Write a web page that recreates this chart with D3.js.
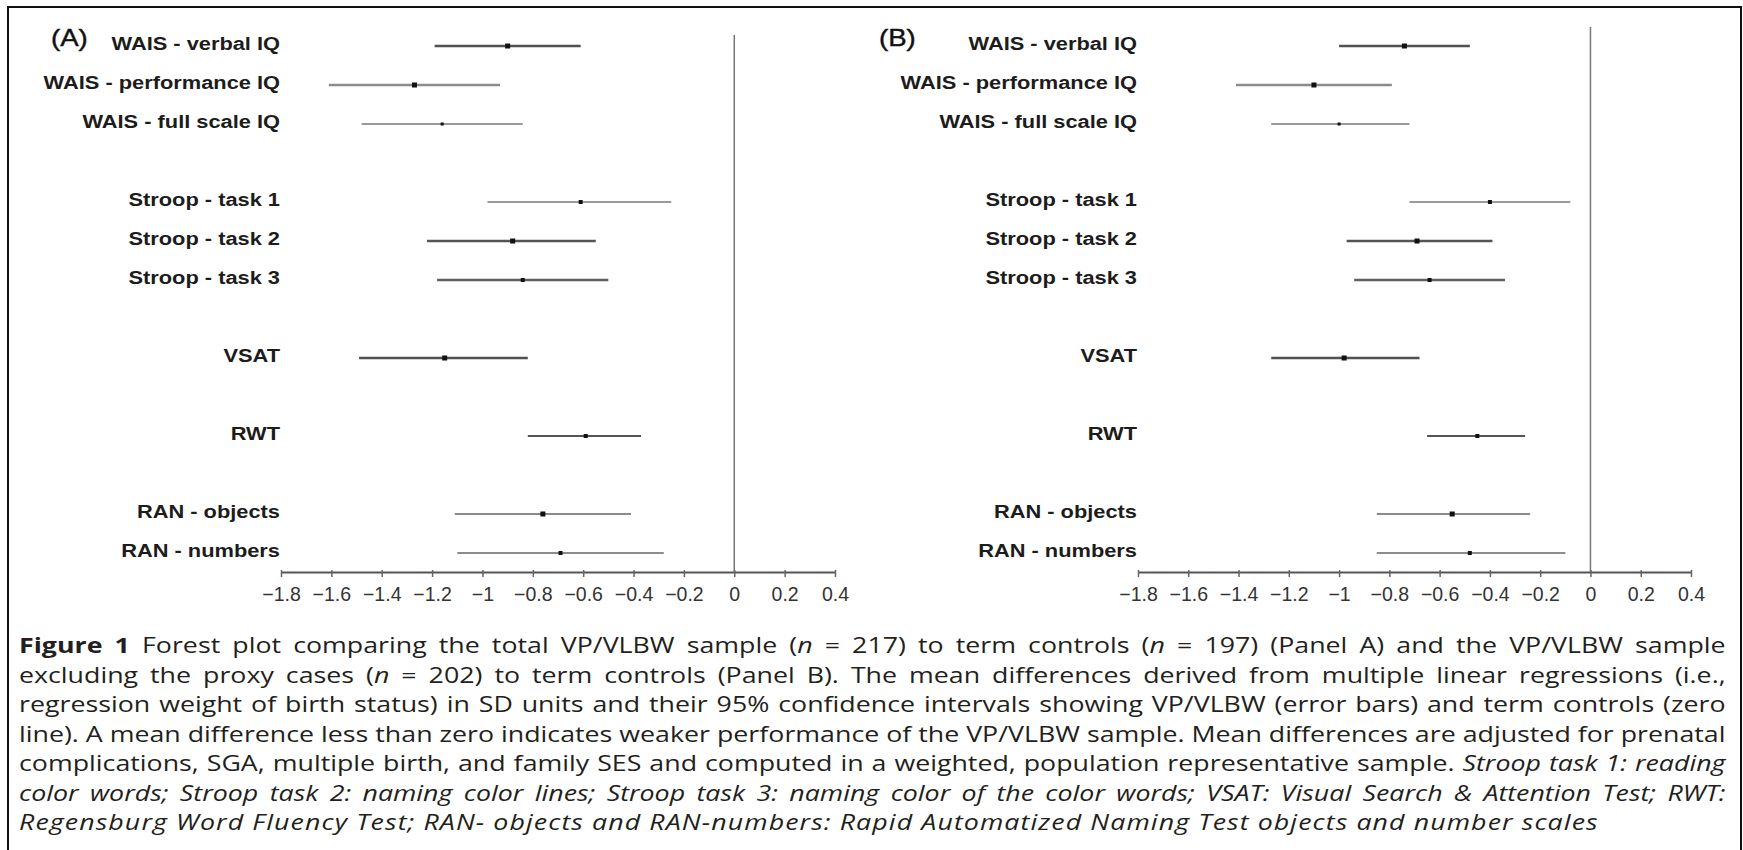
<!DOCTYPE html>
<html>
<head>
<meta charset="utf-8">
<script src="https://cdn.jsdelivr.net/npm/d3@7"></script>
<style>
  body { margin: 0; background: #fff; }
  svg { display: block; }
</style>
</head>
<body>
<script>
//****************************
//data
const measures = ["WAIS - verbal IQ", "WAIS - performance IQ", "WAIS - full scale IQ",
  "Stroop - task 1", "Stroop - task 2", "Stroop - task 3",
  "VSAT", "RWT", "RAN - objects", "RAN - numbers"];
const groups = ["WAIS", "WAIS", "WAIS", "Stroop", "Stroop", "Stroop", "VSAT", "RWT", "RAN", "RAN"];

// panel A: total VP/VLBW sample
const meanA = [-0.90, -1.27, -1.16, -0.61, -0.88, -0.84, -1.15, -0.59, -0.76, -0.69];
const lowA  = [-1.19, -1.61, -1.48, -0.98, -1.22, -1.18, -1.49, -0.82, -1.11, -1.10];
const highA = [-0.61, -0.93, -0.84, -0.25, -0.55, -0.50, -0.82, -0.37, -0.41, -0.28];

// panel B: without proxy cases
const meanB = [-0.74, -1.10, -1.00, -0.40, -0.69, -0.64, -0.98, -0.45, -0.55, -0.48];
const lowB  = [-1.00, -1.41, -1.27, -0.72, -0.97, -0.94, -1.27, -0.65, -0.85, -0.85];
const highB = [-0.48, -0.79, -0.72, -0.08, -0.39, -0.34, -0.68, -0.26, -0.24, -0.10];

const xTicks = [-1.8, -1.6, -1.4, -1.2, -1, -0.8, -0.6, -0.4, -0.2, 0, 0.2, 0.4];

const captionLines = [
  [["Figure 1", "b"], [" Forest plot comparing the total VP/VLBW sample ("], ["n", "i"], [" = 217) to term controls ("], ["n", "i"], [" = 197) (Panel A) and the VP/VLBW sample"]],
  [["excluding the proxy cases ("], ["n", "i"], [" = 202) to term controls (Panel B). The mean differences derived from multiple linear regressions (i.e.,"]],
  [["regression weight of birth status) in SD units and their 95% confidence intervals showing VP/VLBW (error bars) and term controls (zero"]],
  [["line). A mean difference less than zero indicates weaker performance of the VP/VLBW sample. Mean differences are adjusted for prenatal"]],
  [["complications, SGA, multiple birth, and family SES and computed in a weighted, population representative sample. "], ["Stroop task 1: reading", "i"]],
  [["color words; Stroop task 2: naming color lines; Stroop task 3: naming color of the color words; VSAT: Visual Search & Attention Test; RWT:", "i"]],
  [["Regensburg Word Fluency Test; RAN- objects and RAN-numbers: Rapid Automatized Naming Test objects and number scales", "i"]]
];

//****************************
//svg
const canvWidth = 1743;
const canvHeight = 850;

const svg = d3.select("body").append("svg")
  .attr("width", canvWidth)
  .attr("height", canvHeight);

svg.append("rect")
  .attr("x", 8).attr("y", 7)
  .attr("width", 1733).attr("height", 870)
  .attr("fill", "none")
  .attr("stroke", "#111")
  .attr("stroke-width", 2);

// slot of each row, one empty slot between groups
const groupOrder = [...new Set(groups)];
const slots = measures.map((m, i) => i + groupOrder.indexOf(groups[i]));

const yScale = d3.scaleLinear().domain([0, 13]).range([46, 553]);
const axisY = 572;

// line weight by measure
const barStyle = {
  "WAIS - verbal IQ":      {c: "#505050", w: 2.6, p: 5},
  "WAIS - performance IQ": {c: "#8c8c8c", w: 2.6, p: 5},
  "WAIS - full scale IQ":  {c: "#777",    w: 1.3, p: 3},
  "Stroop - task 1":       {c: "#9a9a9a", w: 2.2, p: 4},
  "Stroop - task 2":       {c: "#555",    w: 2.6, p: 5},
  "Stroop - task 3":       {c: "#606060", w: 2.6, p: 4},
  "VSAT":                  {c: "#505050", w: 2.6, p: 5},
  "RWT":                   {c: "#555",    w: 2.2, p: 4},
  "RAN - objects":         {c: "#8a8a8a", w: 2.2, p: 5},
  "RAN - numbers":         {c: "#666",    w: 1.3, p: 4}
};

const fmt = d => d === 0 ? "0" : String(d).replace("-", "\u2212");

function drawPanel(letter, letterX, range, zeroTop, mean, low, high) {
  const xScale = d3.scaleLinear().domain([-1.8, 0.4]).range(range);
  const g = svg.append("g").attr("class", "panel");

  // zero line
  g.append("line")
    .attr("x1", xScale(0)).attr("x2", xScale(0))
    .attr("y1", zeroTop).attr("y2", axisY)
    .attr("stroke", "#777")
    .attr("stroke-width", 1.5);

  // x axis
  const xAxis = d3.axisBottom(xScale)
    .tickValues(xTicks)
    .tickFormat(fmt)
    .tickSizeInner(5)
    .tickSizeOuter(0)
    .tickPadding(10);
  const ax = g.append("g")
    .attr("transform", `translate(0,${axisY})`)
    .call(xAxis);
  ax.select(".domain").attr("stroke", "#555").attr("stroke-width", 2);
  ax.selectAll(".tick line").attr("stroke", "#666").attr("stroke-width", 1.5).attr("y1", -2);
  ax.selectAll(".tick text")
    .attr("fill", "#333")
    .attr("font-family", "Liberation Sans, Arial, sans-serif")
    .attr("font-size", "19.5px");

  // row labels
  g.selectAll("text.row-label")
    .data(measures)
    .enter().append("text")
    .attr("class", "row-label")
    .attr("transform", (d, i) => `translate(${xScale(-1.8) - 1},${yScale(slots[i]) + 4}) scale(1.18,1)`)
    .attr("text-anchor", "end")
    .attr("font-family", "Liberation Sans, Arial, sans-serif")
    .attr("font-weight", "bold")
    .attr("font-size", "18.5px")
    .attr("fill", "#1c1c1c")
    .text(d => d);

  // panel letter
  g.append("text")
    .attr("transform", `translate(${letterX},46) scale(1.2,1)`)
    .attr("font-family", "Liberation Sans, Arial, sans-serif")
    .attr("font-size", "23px")
    .attr("stroke", "#111")
    .attr("stroke-width", 0.4)
    .attr("fill", "#111")
    .text(letter);

  // error bars
  g.selectAll("line.ci")
    .data(measures)
    .enter().append("line")
    .attr("class", "ci")
    .attr("x1", (d, i) => xScale(low[i]))
    .attr("x2", (d, i) => xScale(high[i]))
    .attr("y1", (d, i) => yScale(slots[i]))
    .attr("y2", (d, i) => yScale(slots[i]))
    .attr("stroke", d => barStyle[d].c)
    .attr("stroke-width", d => barStyle[d].w);

  // mean points
  g.selectAll("rect.mean")
    .data(measures)
    .enter().append("rect")
    .attr("class", "mean")
    .attr("x", (d, i) => xScale(mean[i]) - barStyle[d].p / 2)
    .attr("y", (d, i) => yScale(slots[i]) - barStyle[d].p / 2)
    .attr("width", d => barStyle[d].p)
    .attr("height", d => barStyle[d].p)
    .attr("fill", "#111");
}

drawPanel("(A)", 51, [281, 835], 35, meanA, lowA, highA);
drawPanel("(B)", 879, [1138, 1691], 27, meanB, lowB, highB);

//****************************
//caption
const capLeft = 19;
const capRight = 1727;
const capLastRight = 1600;
const capBase = 653;
const capStep = 29.5;
const capSize = 21.5;

const capTexts = captionLines.map((segs, li) => {
  const t = svg.append("text")
    .attr("class", "caption")
    .attr("font-family", "Open Sans, sans-serif")
    .attr("font-size", capSize + "px")
    .attr("fill", "#231f20")
    .attr("xml:space", "preserve");
  segs.forEach(s => {
    t.append("tspan")
      .attr("font-weight", s[1] === "b" ? "bold" : null)
      .attr("font-style", s[1] === "i" ? "italic" : null)
      .text(s[0]);
  });
  return t;
});

// justify: widen glyphs to the tightest full line, then word-spacing per line
const last = captionLines.length - 1;
const targets = captionLines.map((s, i) => (i === last ? capLastRight : capRight) - capLeft);
const lineStr = captionLines.map(segs => segs.map(s => s[0]).join(""));
const naturals = capTexts.map(t => t.node().getComputedTextLength());
const sx = Math.max(1, d3.min(naturals.slice(0, last), (n, i) => targets[i] / n));
capTexts.forEach((t, i) => {
  t.attr("transform", `translate(${capLeft},${capBase + i * capStep}) scale(${sx},1)`);
  const extra = targets[i] / sx - naturals[i];
  if (i === last) {
    // last line is not justified, just tracked a little
    t.style("letter-spacing", (extra / lineStr[i].length) + "px");
  } else {
    const spaces = lineStr[i].split(" ").length - 1;
    t.style("word-spacing", (extra / spaces) + "px");
  }
});
</script>
</body>
</html>
